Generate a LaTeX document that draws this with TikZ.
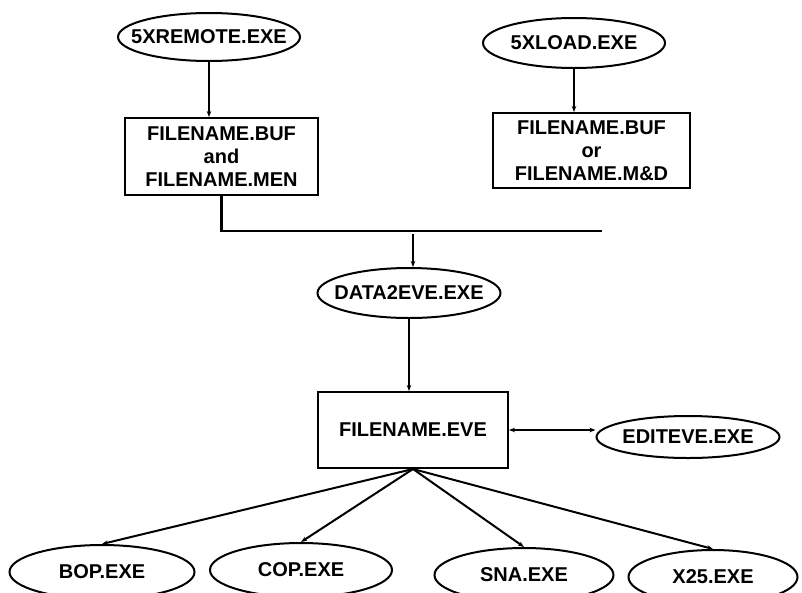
\documentclass[tikz,border=0pt]{standalone}
\usepackage{fontspec}
\setmainfont{Liberation Sans}
\usetikzlibrary{positioning,arrows.meta,shapes.geometric}

\begin{document}
\begin{tikzpicture}[
  x=1pt, y=-1pt,
  every node/.style={font=\fontsize{20}{23}\selectfont\bfseries},
  prog/.style={draw, ellipse, line width=2pt, inner sep=0pt,
    minimum height=48pt},
  datafile/.style={draw, rectangle, line width=2pt, align=center,
    inner sep=0pt},
  arrow/.style={-{Stealth[length=6pt,width=4.5pt]}, line width=2pt},
  bus/.style={line width=2.2pt}
]
  \useasboundingbox (0,0) rectangle (802,592);

  % programs and their files
  \node (remote) [prog, minimum width=182pt] at (209,37)
    {\makebox[0pt]{5XREMOTE.EXE}};
  \node (load) [prog, minimum width=182pt, minimum height=50pt] at (574,43)
    {\makebox[0pt]{5XLOAD.EXE}};
  \node (bufmen) [datafile, minimum width=193pt, minimum height=77pt]
    at (221.5,156.5) {FILENAME.BUF\\and\\FILENAME.MEN};
  \node (bufmd) [datafile, minimum width=197pt, minimum height=75pt]
    at (591.5,150.5) {FILENAME.BUF\\or\\FILENAME.M\&D};

  \node (data2eve) [prog, minimum width=183pt, minimum height=50pt]
    at (409,293) {\makebox[0pt]{DATA2EVE.EXE}};
  \node (eve) [datafile, minimum width=190pt, minimum height=76pt]
    at (413,430) {FILENAME.EVE};
  \node (editeve) [prog, minimum width=183pt, minimum height=42pt]
    at (688,437) {\makebox[0pt]{EDITEVE.EXE}};

  \node (bop) [prog, minimum width=185pt, minimum height=54pt] at (102,572)
    {\makebox[0pt]{BOP.EXE}};
  \node (cop) [prog, minimum width=182pt, minimum height=54pt] at (301,570)
    {\makebox[0pt]{COP.EXE}};
  \node (sna) [prog, minimum width=179pt, minimum height=54pt] at (524,575)
    {\makebox[0pt]{SNA.EXE}};
  \node (x25) [prog, minimum width=169pt, minimum height=54pt] at (713,577)
    {\makebox[0pt]{X25.EXE}};

  \coordinate (busend) at (602,231);
  \coordinate (busin) at (413,234);

  \draw[arrow] (remote) -- (remote |- bufmen.north);
  \draw[arrow] (load) -- (load |- bufmd.north);

  \draw[bus] (bufmen.south) -- (bufmen.south |- busend) -- (busend);
  \draw[arrow] (busin) -- (busin |- data2eve.north);
  \draw[arrow] (data2eve) -- (data2eve |- eve.north);
  \draw[{Stealth[length=6pt,width=4.5pt]}-{Stealth[length=6pt,width=4.5pt]},
    line width=2pt] (eve.east) -- (eve.east -| editeve.west);

  \draw[arrow] (eve.south) -- (bop.north);
  \draw[arrow] (eve.south) -- (cop.north);
  \draw[arrow] (eve.south) -- (sna.north);
  \draw[arrow] (eve.south) -- (x25.north);
\end{tikzpicture}
\end{document}
